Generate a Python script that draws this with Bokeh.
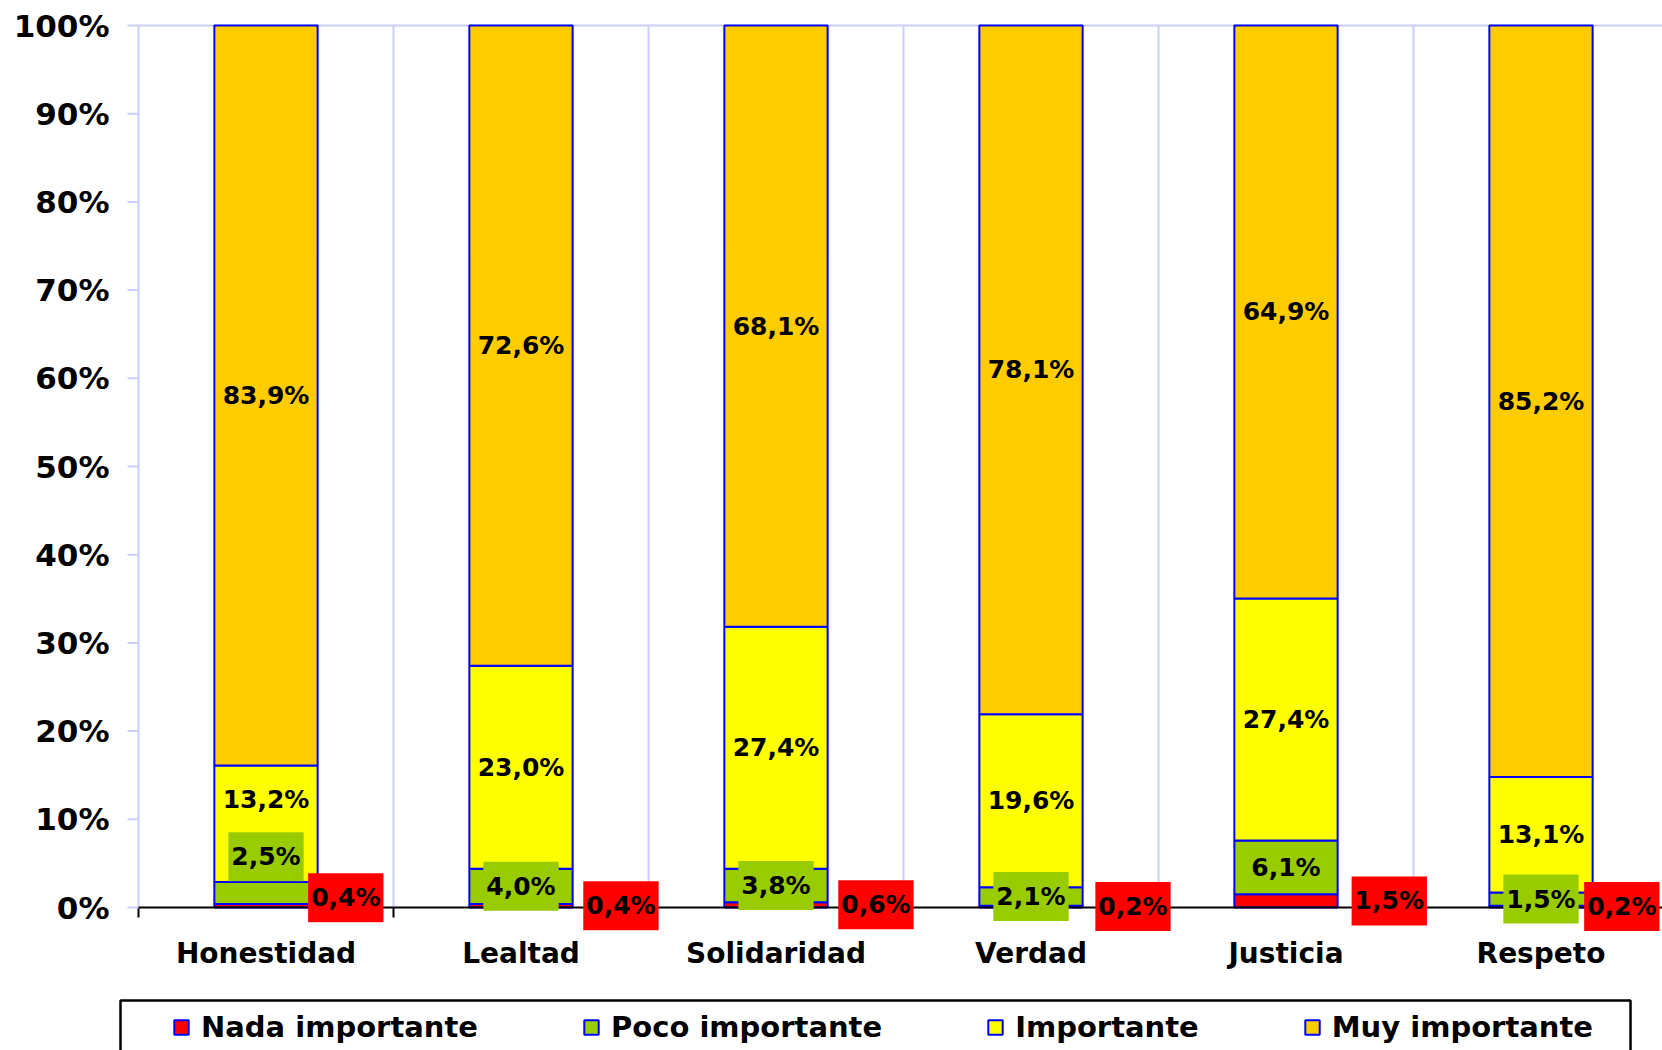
from bokeh.plotting import figure
from bokeh.models import (ColumnDataSource, Range1d, Legend, LegendItem, Label, BoxAnnotation)
from bokeh.core.properties import value
from bokeh.embed import file_html
from bokeh.resources import INLINE

# ---------------- data ----------------
categories = ["Honestidad", "Lealtad", "Solidaridad", "Verdad", "Justicia", "Respeto"]
nada = [0.4, 0.4, 0.6, 0.2, 1.5, 0.2]
poco = [2.5, 4.0, 3.8, 2.1, 6.1, 1.5]
importante = [13.2, 23.0, 27.4, 19.6, 27.4, 13.1]
muy = [83.9, 72.6, 68.1, 78.1, 64.9, 85.2]
series_names = ["Nada importante", "Poco importante", "Importante", "Muy importante"]
y_ticks = [0, 10, 20, 30, 40, 50, 60, 70, 80, 90, 100]
y_tick_labels = ["0%", "10%", "20%", "30%", "40%", "50%", "60%", "70%", "80%", "90%", "100%"]

# ---------------- styles ----------------
colors = ["#ff0000", "#99cc00", "#ffff00", "#ffcc00"]
bar_line = "#0000ff"
grid_col = "#ccccff"
font = "DejaVu Sans"
imp_lift = [2.8, 0, 0, 0, 0, 0]
poco_lift = [4.1, 0, 0, 0, 0, 0]
nada_lift = [0.9, 0, 0, 0, 0, 0]
nada_dx = [0.313, 0.392, 0.392, 0.40, 0.405, 0.317]
W, H = 1662, 1050
left_px, top_px, bottom_px = 138, 25, 143   # plot area margins in pixels
py = 100.0 / 882.0          # data units per pixel (vertical)
hx = 1.0 / 255.0            # data units per pixel (horizontal)

n_cat = len(categories)
xc = [i + 0.5 for i in range(n_cat)]
bounds = list(range(0, n_cat + 1))
totals = [a + b + c + d for a, b, c, d in zip(nada, poco, importante, muy)]
def share(vals):
    return [v * 100.0 / t for v, t in zip(vals, totals)]
s_n, s_p, s_i, s_m = share(nada), share(poco), share(importante), share(muy)

src = ColumnDataSource(dict(x=xc, n=s_n, p=s_p, i=s_i, m=s_m))

p = figure(width=W, height=H,
           x_range=Range1d(-left_px * hx, (W - left_px) * hx),
           y_range=Range1d(-bottom_px * py, 100 + top_px * py),
           x_axis_location=None, y_axis_location=None,
           output_backend="svg", toolbar_location=None,
           min_border_left=0, min_border_right=0, min_border_top=0, min_border_bottom=0)
p.outline_line_color = None
p.xgrid.visible = False
p.ygrid.visible = False

# grid lines (category boundaries and 100% line), limited to 0..100
p.segment(x0=bounds[1:], y0=[0] * n_cat, x1=bounds[1:], y1=[100] * n_cat,
          line_color=grid_col, line_width=2)
p.segment(x0=[0, 0], y0=[0, 100], x1=[0, n_cat], y1=[100, 100], line_color=grid_col, line_width=2)

renderers = p.vbar_stack(["n", "p", "i", "m"], x="x", width=0.405, source=src,
                         fill_color=colors, line_color=bar_line, line_width=2)

# x axis at 0%
p.segment(x0=[0], y0=[0], x1=[n_cat], y1=[0], line_color="black", line_width=2)
p.segment(x0=bounds, y0=[0] * len(bounds), x1=bounds, y1=[-10 * py] * len(bounds),
          line_color="black", line_width=2)
p.text(x=xc, y=[-46 * py] * n_cat, text=categories, text_font=value(font),
       text_font_style="bold", text_font_size="28px", text_align="center",
       text_baseline="middle", text_color="black")

# y axis ticks and labels
p.segment(x0=[-11 * hx] * len(y_ticks), y0=y_ticks, x1=[0] * len(y_ticks), y1=y_ticks,
          line_color=grid_col, line_width=2)
p.text(x=[-29 * hx] * len(y_ticks), y=y_ticks, text=y_tick_labels, text_font=value(font),
       text_font_style="bold", text_font_size="31px", text_align="right",
       text_baseline="middle", text_color="black")

def fmt(v):
    return f"{v:.1f}".replace(".", ",") + "%"

lbl_kw = dict(text_font=font, text_font_style="bold", text_font_size="25px",
              text_align="center", text_baseline="middle", text_color="black")

for k in range(n_cat):
    b_n = s_n[k]
    b_p = b_n + s_p[k]
    b_i = b_p + s_i[k]
    p.add_layout(Label(x=xc[k], y=b_i + s_m[k] / 2, text=fmt(muy[k]), **lbl_kw))
    p.add_layout(Label(x=xc[k], y=b_p + s_i[k] / 2 + imp_lift[k], text=fmt(importante[k]), **lbl_kw))
    p.add_layout(Label(x=xc[k], y=b_n + s_p[k] / 2 + poco_lift[k], text=fmt(poco[k]),
                       background_fill_color=colors[1], padding=(3, 10), **lbl_kw))
    p.add_layout(Label(x=xc[k] + nada_dx[k], y=s_n[k] / 2 + nada_lift[k], text=fmt(nada[k]),
                       background_fill_color=colors[0], padding=(3, 10), **lbl_kw))

# legend frame
box = BoxAnnotation(left=(120 - left_px) * hx, right=(1630 - left_px) * hx,
                    top=-93 * py, bottom=-160 * py,
                    fill_alpha=0, line_color="black", line_alpha=1, line_width=2.5)
p.add_layout(box)

legend = Legend(items=[LegendItem(label=nm, renderers=[r]) for nm, r in zip(series_names, renderers)],
                orientation="horizontal", location=(left_px + 34, 6), spacing=104, padding=12, margin=0,
                glyph_width=18, glyph_height=18, label_standoff=11, label_height=30,
                label_text_font=font, label_text_font_style="bold", label_text_font_size="29px",
                label_text_color="black",
                border_line_color=None, background_fill_alpha=0)
p.add_layout(legend)

open("out.html", "w").write(file_html(p, INLINE))
